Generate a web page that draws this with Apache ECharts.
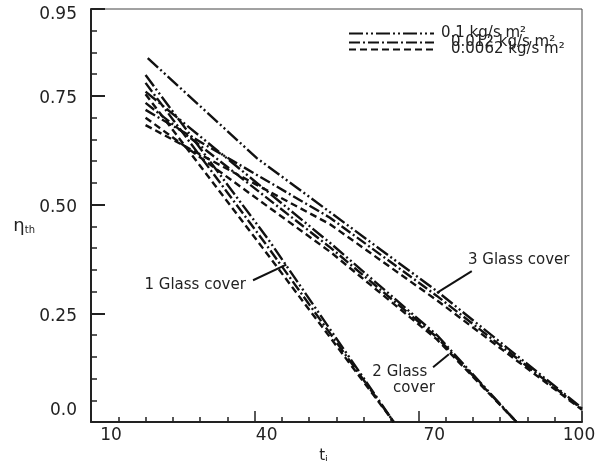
<!DOCTYPE html>
<html>
<head>
<meta charset="utf-8">
<script src="https://cdn.jsdelivr.net/npm/echarts@6/dist/echarts.min.js"></script>
<style>
  html, body { margin: 0; background: #fff; }
  #chart { width: 606px; height: 461px; }
</style>
</head>
<body>
<div id="chart"></div>
<script>
// legend entries (one line style per mass flow rate)
var flowRates = ['0.1 kg/s m²', '0.012 kg/s m²', '0.0062 kg/s m²'];

// [ti, eta], order of flowRates inside each cover
var glass1 = [
    [[20, 0.798], [42.5, 0.42], [65.5, 0]],
    [[20, 0.78], [42, 0.41], [65.5, 0]],
    [[20, 0.754], [41.5, 0.40], [65.5, 0]]
];
var glass2 = [
    [[20, 0.76], [54, 0.41], [73.4, 0.20], [88, 0]],
    [[20, 0.734], [54, 0.40], [73.4, 0.195], [88, 0]],
    [[20, 0.70], [54, 0.39], [73.4, 0.19], [88, 0]]
];
var glass3 = [
    [[20.4, 0.837], [40.4, 0.607], [73.4, 0.301], [100, 0.032]],
    [[20, 0.718], [53.8, 0.47], [73.4, 0.29], [100, 0.03]],
    [[20, 0.683], [53.8, 0.455], [73.4, 0.28], [100, 0.028]]
];

var xTicks = [10, 40, 70, 100];
var yTicks = [0, 0.25, 0.5, 0.75, 0.95];
var yTickText = ['0.0', '0.25', '0.50', '0.75', '0.95'];

var dashes = [[14, 3, 2, 3, 2, 3], [11, 3, 2, 3], [7, 4]];

var chart = echarts.init(document.getElementById('chart'));

var series = [];
[glass1, glass2, glass3].forEach(function (cover) {
    cover.forEach(function (pts, i) {
        series.push({
            name: flowRates[i],
            type: 'line',
            symbol: 'none',
            silent: true,
            data: pts,
            itemStyle: { color: '#111' },
            lineStyle: { color: '#111', width: 2.4, type: dashes[i] }
        });
    });
});

function legendAt(i, left, top, gap) {
    return {
        data: [flowRates[i]],
        left: left,
        top: top,
        padding: 0,
        itemWidth: 85,
        itemHeight: 12,
        selectedMode: false,
        itemStyle: { opacity: 0 },
        textStyle: {
            fontFamily: 'DejaVu Sans',
            fontSize: 15,
            color: '#222',
            padding: gap
        }
    };
}

var font = 'DejaVu Sans';

chart.setOption({
    animation: false,
    backgroundColor: '#fff',
    grid: {
        left: 91, right: 24, top: 9, bottom: 39,
        outerBoundsMode: 'none',
        containLabel: false,
        show: true,
        borderColor: '#444',
        borderWidth: 1
    },
    legend: [
        legendAt(0, 348, 26, [0, 0, 16, 2]),
        legendAt(1, 348, 35, [0, 0, 0, 12]),
        legendAt(2, 348, 42, [8, 0, 0, 12])
    ],
    xAxis: {
        type: 'value',
        min: xTicks[0],
        max: xTicks[xTicks.length - 1],
        interval: 30,
        name: '{t|t}{s|i}',
        nameLocation: 'middle',
        nameGap: 20,
        nameTextStyle: {
            padding: [0, 26, 0, 0],
            rich: {
                t: { fontFamily: font, fontSize: 15, color: '#222' },
                s: { fontFamily: font, fontSize: 10, color: '#222', padding: [8, 0, 0, 0] }
            }
        },
        axisLine: { lineStyle: { color: '#222', width: 2 } },
        axisTick: { inside: true, length: 11, lineStyle: { color: '#222', width: 1.5 } },
        minorTick: { show: true, splitNumber: 6, length: 5, lineStyle: { color: '#222', width: 1.5 } },
        splitLine: { show: false },
        axisLabel: {
            margin: 5,
            formatter: function (v) {
                var k = Math.round(v);
                if (k === 10) return '{a|10}';
                if (k === 40) return '{b|40}';
                if (k === 70) return '{c|70}';
                return '{d|' + k + '}';
            },
            rich: {
                a: { fontFamily: font, fontSize: 17, color: '#222', padding: [0, 0, 0, 40] },
                b: { fontFamily: font, fontSize: 17, color: '#222', padding: [0, 0, 0, 24] },
                c: { fontFamily: font, fontSize: 17, color: '#222', padding: [0, 0, 0, 32] },
                d: { fontFamily: font, fontSize: 17, color: '#222', padding: [0, 6, 0, 0] }
            }
        }
    },
    yAxis: [{
        type: 'value',
        min: 0,
        max: 0.95,
        interval: 0.05,
        name: '{e|η}{s|th}',
        nameLocation: 'middle',
        nameRotate: 0,
        nameGap: 56,
        nameTextStyle: {
            padding: [22, 0, 0, 0],
            rich: {
                e: { fontFamily: font, fontSize: 18, color: '#222' },
                s: { fontFamily: font, fontSize: 10, color: '#222', padding: [8, 0, 0, 0] }
            }
        },
        axisLine: { lineStyle: { color: '#222', width: 2 } },
        axisTick: { inside: true, length: 6, lineStyle: { color: '#222', width: 1.5 } },
        axisLabel: { show: false },
        splitLine: { show: false }
    }, {
        type: 'value',
        position: 'left',
        min: 0,
        max: 0.95,
        interval: 0.25,
        axisLine: { show: false },
        axisTick: { inside: true, length: 14, lineStyle: { color: '#222', width: 2 } },
        splitLine: { show: false },
        axisLabel: {
            margin: 14,
            formatter: function (v) {
                var i = yTicks.indexOf(Math.round(v * 100) / 100);
                if (i === 0) return '{lo|' + yTickText[i] + '}';
                if (i === yTicks.length - 1) return '{hi|' + yTickText[i] + '}';
                return '{m|' + yTickText[i] + '}';
            },
            rich: {
                lo: { fontFamily: font, fontSize: 17, color: '#222', padding: [0, 0, 22, 0] },
                hi: { fontFamily: font, fontSize: 17, color: '#222', padding: [12, 0, 0, 0] },
                m: { fontFamily: font, fontSize: 17, color: '#222', padding: [6, 0, 0, 0] }
            }
        }
    }],
    series: series
});

// cover labels with pointer lines, anchored in data units
var notes = [
    { text: '1 Glass cover', at: [29.1, 0.315], from: [39.7, 0.326], to: [45.8, 0.362] },
    { text: '2 Glass', at: [66.6, 0.115], from: [72.7, 0.126], to: [75.6, 0.156] },
    { text: 'cover', at: [69.2, 0.078] },
    { text: '3 Glass cover', at: [88.4, 0.373], from: [79.8, 0.347], to: [73.4, 0.297] }
];
var graphics = [];
notes.forEach(function (n) {
    var p = chart.convertToPixel({ gridIndex: 0 }, n.at);
    graphics.push({
        type: 'text',
        x: p[0], y: p[1],
        style: {
            text: n.text,
            font: '15px "DejaVu Sans"',
            fill: '#222',
            align: 'center',
            verticalAlign: 'middle'
        }
    });
    if (n.from) {
        var a = chart.convertToPixel({ gridIndex: 0 }, n.from);
        var b = chart.convertToPixel({ gridIndex: 0 }, n.to);
        graphics.push({
            type: 'line',
            shape: { x1: a[0], y1: a[1], x2: b[0], y2: b[1] },
            style: { stroke: '#111', lineWidth: 2 }
        });
    }
});
chart.setOption({ graphic: graphics });
</script>
</body>
</html>
